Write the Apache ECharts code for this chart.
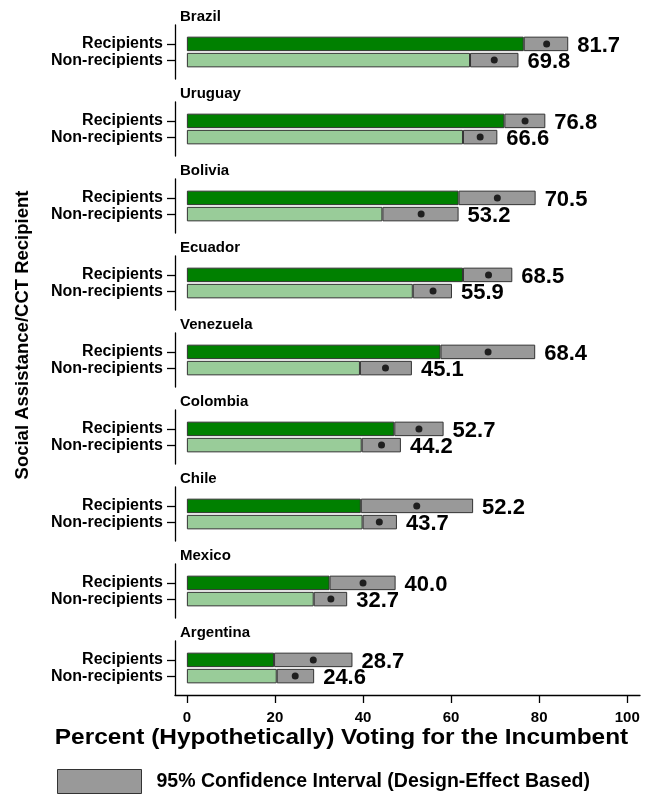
<!DOCTYPE html>
<html>
<head>
<meta charset="utf-8">
<script src="https://cdn.jsdelivr.net/npm/echarts@6/dist/echarts.min.js"></script>
<style>
  html, body { margin: 0; padding: 0; background: #fff; }
  #chart { width: 652px; height: 795px; }
</style>
</head>
<body>
<div id="chart"></div>
<script>
// data
const countries = ['Brazil', 'Uruguay', 'Bolivia', 'Ecuador', 'Venezuela', 'Colombia', 'Chile', 'Mexico', 'Argentina']
const groups = ['Recipients', 'Non-recipients']
const recMean = [81.7, 76.8, 70.5, 68.5, 68.4, 52.7, 52.2, 40.0, 28.7]
const recLow = [76.5, 72.1, 61.7, 62.7, 57.6, 47.1, 39.5, 32.4, 19.8]
const recHigh = [86.6, 81.4, 79.2, 73.9, 79.1, 58.3, 65.0, 47.4, 37.6]
const nonMean = [69.8, 66.6, 53.2, 55.9, 45.1, 44.2, 43.7, 32.7, 24.6]
const nonLow = [64.3, 62.7, 44.4, 51.3, 39.3, 39.7, 39.9, 28.8, 20.4]
const nonHigh = [75.3, 70.5, 61.7, 60.2, 51.1, 48.6, 47.7, 36.4, 28.9]
const xTicks = [0, 20, 40, 60, 80, 100]

const ciName = '95% Confidence Interval (Design-Effect Based)'
const font = 'Liberation Sans, Arial, sans-serif'
const darkGreen = '#008000'
const lightGreen = '#99cc99'
const grey = '#999999'
const edge = '#333333'

var myChart = echarts.init(document.getElementById('chart'))

const grids = []
const xAxes = []
const yAxes = []
const series = []
const titles = []

const panelTop = 25
const panelStep = 77
const panelH = 54
const bandH = 32.4

countries.forEach((c, i) => {
	const last = i === countries.length - 1
	const top = panelTop + panelStep * i

	// frame grid: long left axis line (and the bottom axis on the last panel)
	grids.push({ left: 175, right: 12, top: top, height: panelH })
	xAxes.push({
		gridIndex: 2 * i,
		type: 'value',
		min: -2.7,
		max: 102.9,
		show: last,
		splitLine: { show: false },
		axisLine: { show: true, onZero: false, lineStyle: { color: '#000', width: 1.3 } },
		axisTick: { show: true, customValues: xTicks, length: 8, lineStyle: { color: '#000', width: 1.3 } },
		axisLabel: { customValues: xTicks, margin: 15, fontFamily: font, fontWeight: 'bold', fontSize: 15, color: '#000' },
	})
	yAxes.push({
		gridIndex: 2 * i,
		type: 'value',
		min: 0,
		max: 1,
		splitLine: { show: false },
		axisLine: { show: true, onZero: false, lineStyle: { color: '#000', width: 1.3 } },
		axisTick: { show: false },
		axisLabel: { show: false },
	})

	// bar grid
	grids.push({ left: 175, right: 12, top: top + (panelH - bandH) / 2, height: bandH })
	xAxes.push({
		gridIndex: 2 * i + 1,
		type: 'value',
		min: -2.7,
		max: 102.9,
		show: false,
		splitLine: { show: false },
	})
	yAxes.push({
		gridIndex: 2 * i + 1,
		type: 'category',
		data: groups,
		inverse: true,
		axisLine: { show: false, onZero: false },
		axisTick: { show: true, alignWithLabel: true, length: 8, lineStyle: { color: '#000', width: 1.3 } },
		axisLabel: { interval: 0, margin: 12, fontFamily: font, fontWeight: 'bold', fontSize: 16, color: '#000' },
	})

	titles.push({
		text: c,
		left: 180,
		top: top - 16,
		padding: 0,
		textStyle: { fontFamily: font, fontWeight: 'bold', fontSize: 15, color: '#000' },
	})

	const means = [recMean[i], nonMean[i]]

	series.push({
		name: 'base' + i,
		type: 'bar',
		xAxisIndex: 2 * i + 1,
		yAxisIndex: 2 * i + 1,
		stack: 'p' + i,
		barWidth: 14.5,
		silent: true,
		data: [
			{ value: recLow[i], itemStyle: { color: darkGreen } },
			{ value: nonLow[i], itemStyle: { color: lightGreen } },
		],
		itemStyle: { borderColor: edge, borderWidth: 1 },
	})
	series.push({
		name: ciName,
		type: 'bar',
		xAxisIndex: 2 * i + 1,
		yAxisIndex: 2 * i + 1,
		stack: 'p' + i,
		barWidth: 14.5,
		data: [recHigh[i] - recLow[i], nonHigh[i] - nonLow[i]],
		itemStyle: { color: grey, borderColor: edge, borderWidth: 1 },
		label: {
			show: true,
			position: 'right',
			distance: 9,
			offset: [0, 2],
			formatter: (p) => means[p.dataIndex].toFixed(1),
			fontFamily: font,
			fontWeight: 'bold',
			fontSize: 22,
			color: '#000',
		},
	})
	series.push({
		name: 'mean' + i,
		type: 'scatter',
		xAxisIndex: 2 * i + 1,
		yAxisIndex: 2 * i + 1,
		symbol: 'circle',
		symbolSize: 7,
		itemStyle: { color: '#000' },
		data: [
			[recMean[i], 0],
			[nonMean[i], 1],
		],
		z: 5,
	})
})

var option = {
	animation: false,
	backgroundColor: '#fff',
	title: titles,
	grid: grids,
	xAxis: xAxes,
	yAxis: yAxes,
	series: series,
	legend: {
		data: [ciName],
		left: 57,
		top: 769,
		padding: 0,
		itemWidth: 84,
		itemHeight: 24,
		icon: 'rect',
		selectedMode: false,
		itemStyle: { color: grey, borderColor: edge, borderWidth: 1 },
		textStyle: { fontFamily: font, fontWeight: 'bold', fontSize: 19.5, color: '#000', padding: [0, 0, 0, 10] },
	},
	graphic: [
		{
			type: 'text',
			x: 23,
			y: 335,
			rotation: Math.PI / 2,
			style: {
				text: 'Social Assistance/CCT Recipient',
				font: 'bold 18.5px ' + font,
				fill: '#000',
				textAlign: 'center',
				textVerticalAlign: 'middle',
			},
		},
		{
			type: 'text',
			x: 341.5,
			y: 738,
			scaleX: 1.11,
			style: {
				text: 'Percent (Hypothetically) Voting for the Incumbent',
				font: 'bold 22px ' + font,
				fill: '#000',
				textAlign: 'center',
				textVerticalAlign: 'middle',
			},
		},
	],
}

myChart.setOption(option)
</script>
</body>
</html>
